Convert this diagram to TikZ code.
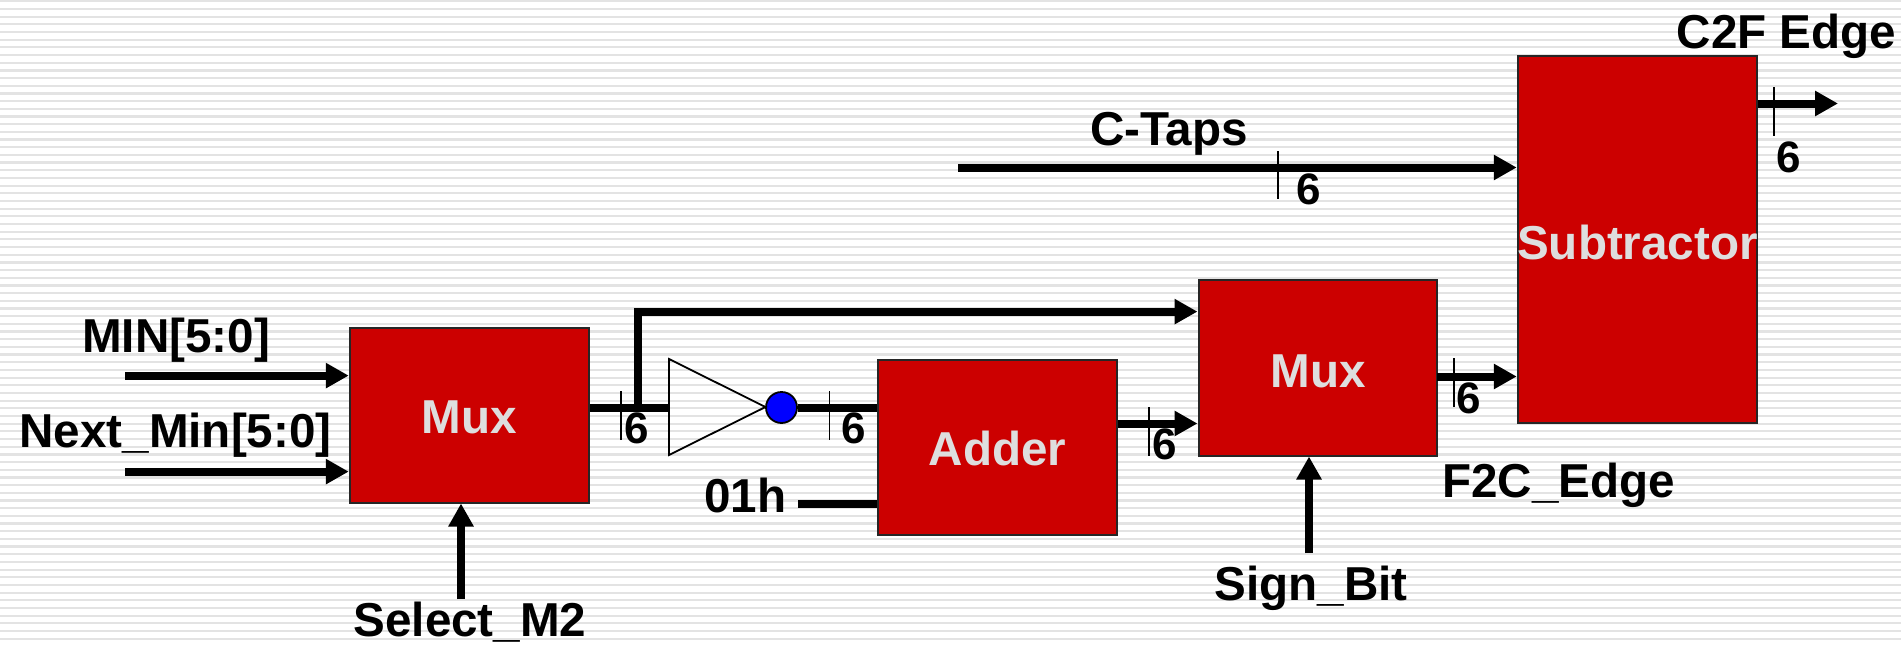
\documentclass[tikz,border=0pt]{standalone}
\usepackage{fontspec}
\setmainfont{Liberation Sans}[BoldFont={Liberation Sans Bold}]
\usetikzlibrary{arrows.meta}
\tikzset{
  block/.style={draw=black!85,line width=2pt,fill=blockred,inner sep=0pt,text=blocktext},
  lbl/.style={anchor=base,inner sep=0pt,text=black,font=\fontsize{47.6}{50}\selectfont\bfseries},
  inlbl/.style={anchor=base,inner sep=0pt,text=blocktext,font=\fontsize{47.6}{50}\selectfont\bfseries},
  six/.style={anchor=base,inner sep=0pt,text=black,font=\fontsize{44}{46}\selectfont\bfseries},
  bus/.style={line width=8pt,line cap=butt},
  busarrow/.style={bus,-{Triangle[length=23pt,width=24pt]}},
  tick/.style={line width=1.6pt},
  stripe/.style={fill=stripegray,draw=none},
}
\definecolor{blockred}{HTML}{CC0000}
\definecolor{blocktext}{HTML}{DEDEDE}
\definecolor{stripegray}{HTML}{E3E3E3}
\begin{document}
\begin{tikzpicture}[x=1pt,y=-1pt]
\useasboundingbox (0,0) rectangle (1901,645);
\fill[white] (0,0) rectangle (1901,645);
\foreach \i in {0,...,84}{
  \fill[stripe] (0,{0.2+\i*7.68}) rectangle (1901,{2.4+\i*7.68});
}
% blocks
\node[block,minimum width=239.5pt,minimum height=175pt] (muxa) at (469.5,415) {};
\node[block,minimum width=239.5pt,minimum height=175pt] (adder) at (997.5,447) {};
\node[block,minimum width=238pt,minimum height=176pt] (muxb) at (1317.5,367.5) {};
\node[block,minimum width=239.5pt,minimum height=367pt] (sub) at (1637.5,239) {};
% inverter
\coordinate (invtop) at (669,359);
\coordinate (invbot) at (669,455);
\coordinate (invin) at (669,407.5);
\coordinate (invtip) at (765.5,407);
\node[circle,draw=black,line width=1.8pt,fill={rgb,255:red,0;green,0;blue,255},minimum size=31pt,inner sep=0pt] (bub) at (781.5,407.5) {};
% free ends
\coordinate (minS) at (125,375.6);
\coordinate (nextS) at (125,471.6);
\coordinate (selS) at (461,599);
\coordinate (branch) at (637.5,407);
\coordinate (branchUp) at (637.5,311.6);
\coordinate (oneS) at (798,503.5);
\coordinate (addOut) at (1118,423.5);
\coordinate (muxOut) at (1437,376.5);
\coordinate (signS) at (1309,553);
\coordinate (ctapS) at (958,167.5);
\coordinate (subOut) at (1758,103.5);
\coordinate (subEnd) at (1838,103.5);
% connectors
\draw[busarrow] (minS) -- (minS -| muxa.west);
\draw[busarrow] (nextS) -- (nextS -| muxa.west);
\draw[busarrow] (selS) -- (selS |- muxa.south);
\draw[bus] (invin -| muxa.east) -- (invin);
\draw[busarrow] (branch) -- (branchUp) -- (branchUp -| muxb.west);
\draw[bus] (bub.east) -- (bub -| adder.west);
\draw[bus] (oneS) -- (oneS -| adder.west);
\draw[busarrow] (addOut) -- (addOut -| muxb.west);
\draw[busarrow] (muxOut) -- (muxOut -| sub.west);
\draw[busarrow] (signS) -- (signS |- muxb.south);
\draw[busarrow] (ctapS) -- (ctapS -| sub.west);
\draw[busarrow] (subOut) -- (subEnd);
% inverter body
\draw[line width=1.8pt,line join=miter] (invtop) -- (invtip) -- (invbot) -- cycle;
% ticks
\draw[tick] (621,391) -- (621,440);
\draw[tick] (829.5,391) -- (829.5,440);
\draw[tick] (1149,407) -- (1149,456);
\draw[tick] (1454,358) -- (1454,407);
\draw[tick] (1278,151) -- (1278,199);
\draw[tick] (1774,87) -- (1774,136);
% block labels
\node[inlbl] (tmuxa) at (469.5,433) {Mux};
\node[inlbl] (tadder) at (997.5,465) {Adder};
\node[inlbl] (tmuxb) at (1318,387) {Mux};
\node[inlbl] (tsub) at (1637.5,259) {Subtractor};
% labels
\node[lbl] (tmin) at (176,352) {MIN[5:0]};
\node[lbl] (tnext) at (175.5,447) {Next\_Min[5:0]};
\node[lbl] (tsel) at (470,636.5) {Select\_M2};
\node[lbl] (tone) at (745.5,512) {01h};
\node[lbl] (tctap) at (1169,145) {C-Taps};
\node[lbl] (tf2c) at (1558.5,497) {F2C\_Edge};
\node[lbl] (tsign) at (1311,600) {Sign\_Bit};
\node[lbl] (tc2f) at (1786.5,48) {C2F Edge};
% widths
\node[six] (s1) at (637,443) {6};
\node[six] (s2) at (853.5,443) {6};
\node[six] (s3) at (1164.5,459) {6};
\node[six] (s4) at (1468.5,413) {6};
\node[six] (s5) at (1309,204) {6};
\node[six] (s6) at (1789,172) {6};
\end{tikzpicture}
\end{document}
